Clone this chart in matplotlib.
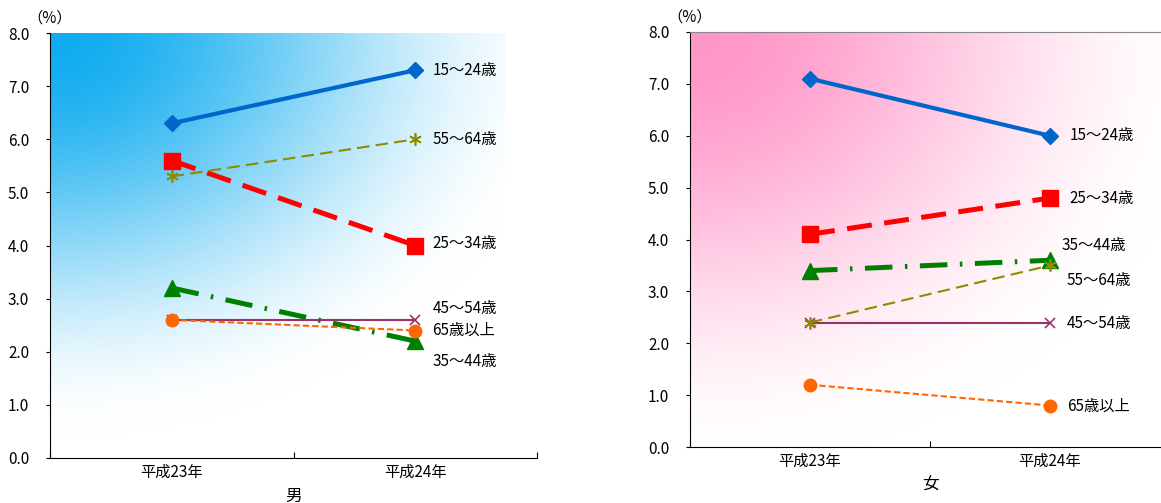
import matplotlib
matplotlib.use('Agg')
import matplotlib.pyplot as plt
import numpy as np

plt.rcParams['font.family'] = ['Noto Sans CJK JP', 'DejaVu Sans']

years = ['平成23年', '平成24年']
groups = ['15～24歳', '25～34歳', '35～44歳', '45～54歳', '55～64歳', '65歳以上']

# 完全失業率 (%)
male = {
    '15～24歳': [6.3, 7.3],
    '25～34歳': [5.6, 4.0],
    '35～44歳': [3.2, 2.2],
    '45～54歳': [2.6, 2.6],
    '55～64歳': [5.3, 6.0],
    '65歳以上': [2.6, 2.4],
}
female = {
    '15～24歳': [7.1, 6.0],
    '25～34歳': [4.1, 4.8],
    '35～44歳': [3.4, 3.6],
    '45～54歳': [2.4, 2.4],
    '55～64歳': [2.4, 3.5],
    '65歳以上': [1.2, 0.8],
}

# label positions (x, y) in data coords
male_lab = {
    '15～24歳': (1.57, 7.3), '55～64歳': (1.57, 6.0), '25～34歳': (1.57, 4.03),
    '45～54歳': (1.57, 2.82), '65歳以上': (1.57, 2.41), '35～44歳': (1.57, 1.81),
}
female_lab = {
    '15～24歳': (1.58, 6.0), '25～34歳': (1.58, 4.8), '35～44歳': (1.55, 3.89),
    '55～64歳': (1.57, 3.2), '45～54歳': (1.57, 2.39), '65歳以上': (1.57, 0.79),
}

styles = {
    '15～24歳': dict(color='#0066cc', lw=3.0, marker='D', ms=8, ls='-'),
    '25～34歳': dict(color='#ff0000', lw=3.6, marker='s', ms=11, dashes=(5, 2.5)),
    '35～44歳': dict(color='#008000', lw=3.6, marker='^', ms=11, dashes=(5.5, 2.5, 0.5, 2.5)),
    '45～54歳': dict(color='#993366', lw=1.5, marker='x', ms=7, mew=1.2, ls='-'),
    '55～64歳': dict(color='#8c8c00', lw=1.5, marker=(6, 2, 0), ms=9, mew=1.2, dashes=(6, 3)),
    '65歳以上': dict(color='#ff6600', lw=1.5, marker='o', ms=9, dashes=(3, 1.5)),
}


def gradient(ax, c, x1, kx, ky):
    ny, nx = 200, 200
    u = np.linspace(0, 1, nx)[None, :]
    v = np.linspace(0, 1, ny)[:, None]
    r = np.clip(np.sqrt((u / kx) ** 2 + (v / ky) ** 2), 0, 1)
    t = r * r * (3 - 2 * r)
    c = np.array(c) / 255.0
    img = c[None, None, :] * (1 - t[..., None]) + np.ones(3) * t[..., None]
    ax.imshow(img, extent=(0, x1, 0, 8), origin='upper', aspect='auto', zorder=0)


def panel(ax, data, labs, title, col, x1, top_spine, kx, ky):
    gradient(ax, col, x1, kx, ky)
    xs = [0.5, 1.5]
    for g in groups:
        st = dict(styles[g])
        ax.plot(xs, data[g], zorder=3, **st)
        lx, ly = labs[g]
        ax.text(lx, ly, g, fontsize=11, va='center', ha='left', zorder=4)
    ax.set_xlim(0, 2)
    ax.set_ylim(0, 8)
    ax.set_yticks(np.arange(0, 8.1, 1))
    ax.set_yticklabels(['%.1f' % v for v in np.arange(0, 8.1, 1)], fontsize=11)
    ax.set_xticks([0, 1, 2])
    ax.set_xticklabels([])
    ax.set_xticks(xs, minor=True)
    ax.set_xticklabels(years, minor=True, fontsize=11)
    ax.tick_params(axis='x', which='major', direction='in', length=4)
    ax.tick_params(axis='x', which='minor', length=0, pad=4)
    ax.tick_params(axis='y', direction='out', length=3, pad=12)
    for s in ['left', 'bottom']:
        ax.spines[s].set_color('black')
    if top_spine:
        ax.spines['top'].set_color('#888888')
        ax.spines['right'].set_color('#888888')
    else:
        ax.spines['top'].set_visible(False)
        ax.spines['right'].set_visible(False)
    ax.text(0.0, 8.12, '（%）', fontsize=11, ha='center', va='bottom')
    ax.set_xlabel(title, fontsize=12, labelpad=5)


fig = plt.figure(figsize=(11.61, 5.03), dpi=100)
ax1 = fig.add_axes([50 / 1161, 1 - 458 / 503, 487 / 1161, 425 / 503])
ax2 = fig.add_axes([690 / 1161, 1 - 447 / 503, 480 / 1161, 415 / 503])

panel(ax1, male, male_lab, '男', (16, 172, 240), 1.865, False, 1.15, 0.95)
panel(ax2, female, female_lab, '女', (255, 150, 200), 2.0, True, 1.1, 1.05)

fig.savefig('out.png', dpi=100)
